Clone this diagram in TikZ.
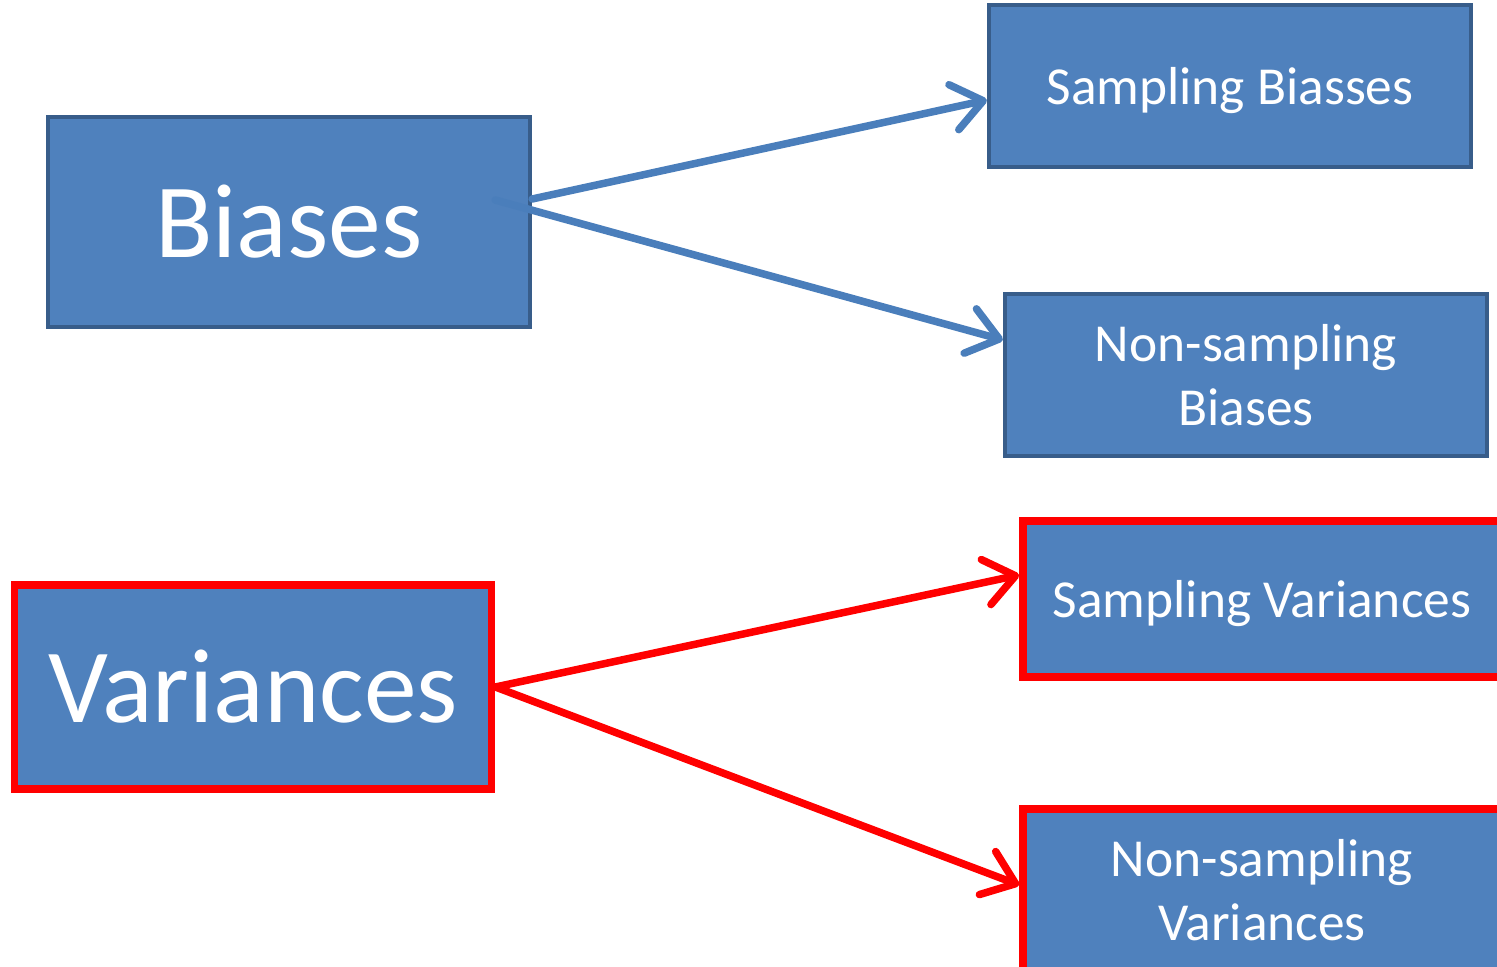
\documentclass[tikz,border=0pt]{standalone}
\usepackage{fontspec}
\setmainfont{Carlito}
\usetikzlibrary{arrows.meta,calc}
\definecolor{boxfill}{HTML}{4F81BD}
\definecolor{boxline}{HTML}{385D8A}
\definecolor{arrblue}{HTML}{4A7EBB}
\definecolor{arrred}{HTML}{FF0000}
\begin{document}
\begin{tikzpicture}[x=0.01cm,y=-0.01cm,
  box/.style={draw=boxline,fill=boxfill,line width=0.04cm,text=white,align=center,inner sep=0pt},
  redbox/.style={box,draw=arrred,line width=0.075cm},
  big/.style={font=\fontsize{30}{36}\selectfont},
  small/.style={font=\fontsize{15.2}{18.3}\selectfont},
  tip/.style={-{Straight Barb[length=0.3cm,width=0.46cm,round]},line width=0.075cm,line cap=round}]
\clip(0,0)rectangle(1497,967);
\useasboundingbox(0,0)rectangle(1497,967);
% left boxes
\node[box,big,minimum width=4.82cm,minimum height=2.09cm](biases)at(289,222){Biases};
\node[redbox,big,minimum width=4.77cm,minimum height=2.04cm](variances)at(253,687){Variances};
% right boxes
\node[box,small,text depth=0pt,minimum width=4.82cm,minimum height=1.61cm](sbias)at(1230,86){Sampling Biasses};
\node[box,small,minimum width=4.82cm,minimum height=1.62cm](nsbias)at(1246,375){Non-sampling\\Biases};
\node[redbox,small,text depth=0pt,minimum width=4.78cm,minimum height=1.56cm](svar)at(1262,599){Sampling Variances};
\node[redbox,small,minimum width=4.78cm,minimum height=1.62cm](nsvar)at(1262,890){Non-sampling\\Variances};
% arrows
\coordinate(bout)at($(biases.east)+(0,-23)$);
\coordinate(bin)at($(biases.east)+(-37,-22)$);
\draw[tip,arrblue](bout)--([yshift=-0.14cm]sbias.west);
\draw[tip,arrblue](bin)--([yshift=0.35cm]nsbias.west);
\draw[tip,arrred](variances.east)--([yshift=0.24cm]svar.west);
\draw[tip,arrred](variances.east)--([yshift=0.05cm]nsvar.west);
\end{tikzpicture}
\end{document}
